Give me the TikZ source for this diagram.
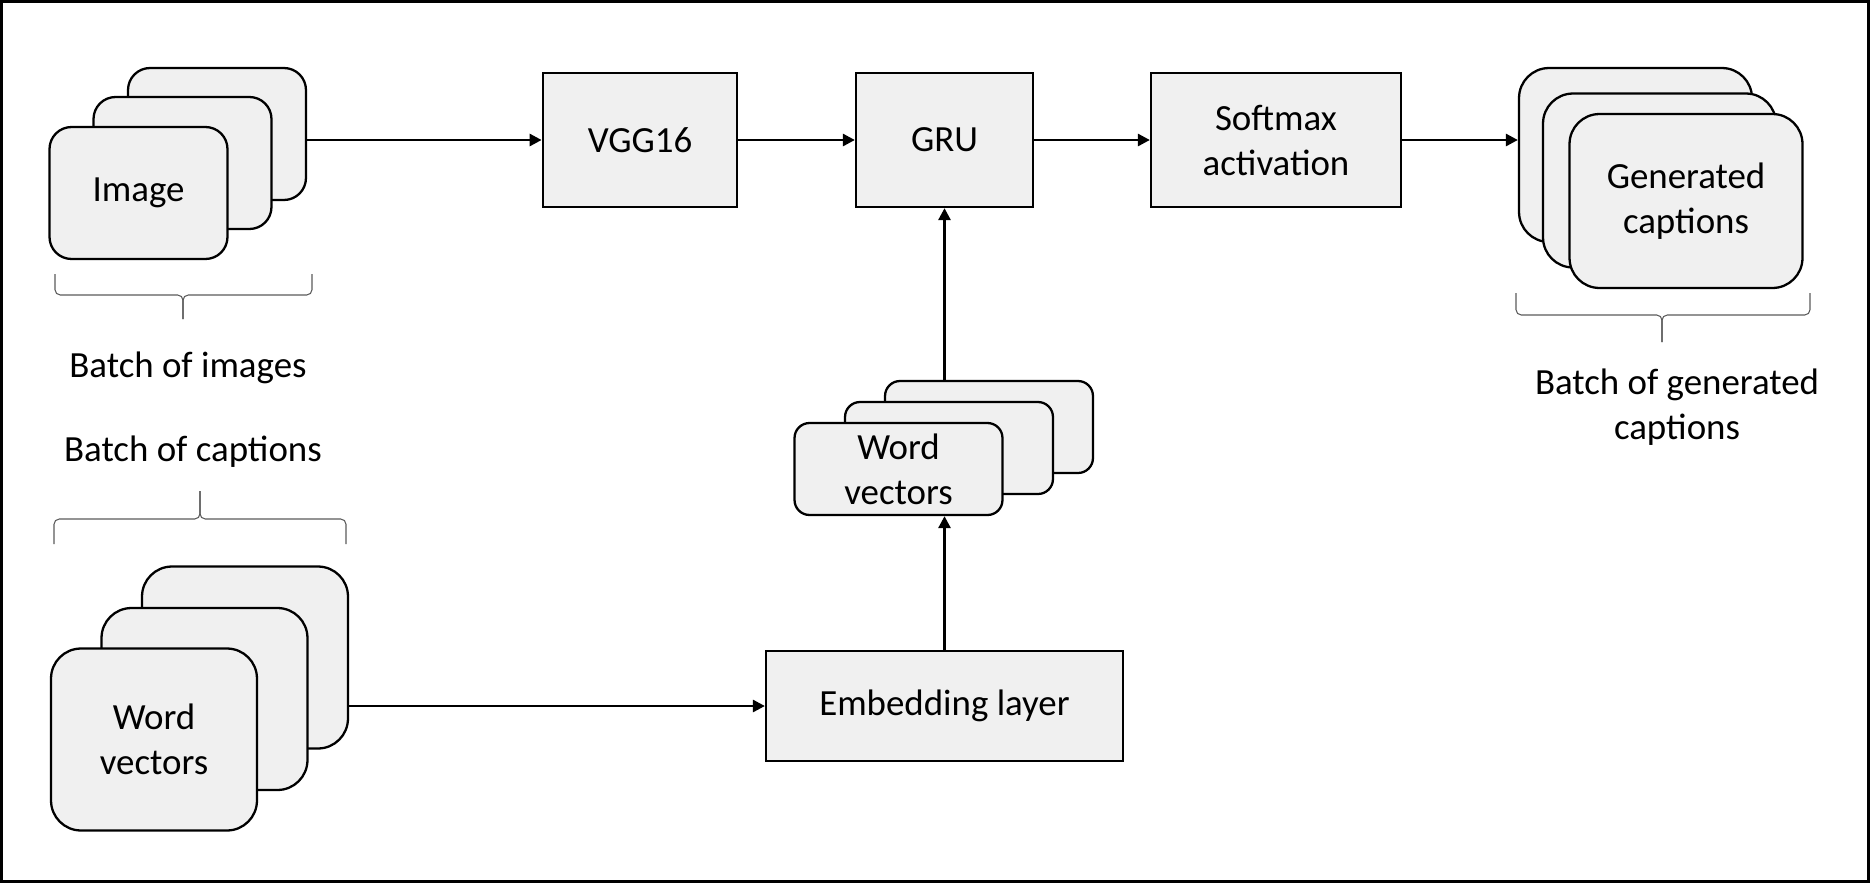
\documentclass[tikz,border=0pt]{standalone}
\usepackage{fontspec}
\setmainfont{Carlito}
\usepackage{xcolor}
\usetikzlibrary{positioning,arrows.meta}
\definecolor{boxfill}{HTML}{F0F0F0}
\definecolor{bracegray}{HTML}{5A5A5A}
\tikzset{
  block/.style={draw, fill=boxfill, line width=1.3pt, align=center, inner sep=0pt,
    font=\fontsize{21}{25.6}\selectfont},
  card/.style={block, rounded corners=#1},
  imgcard/.style={card=0.44cm, minimum width=3.56cm, minimum height=2.64cm},
  wordcard/.style={card=0.6cm, minimum width=4.12cm, minimum height=3.64cm},
  veccard/.style={card=0.3cm, minimum width=4.16cm, minimum height=1.84cm},
  gencard/.style={card=0.6cm, minimum width=4.66cm, minimum height=3.48cm},
  arr/.style={-{Triangle[length=6.8pt,width=6.8pt]}, line width=1.55pt},
  brc/.style={draw=bracegray, line width=0.6pt, rounded corners=3pt},
  lbl/.style={align=center, font=\fontsize{21}{25.6}\selectfont}
}

\begin{document}
\begin{tikzpicture}[x=0.02cm, y=-0.02cm]
    \useasboundingbox (0,0) rectangle (1870,883);
    \draw[line width=1.6pt] (1.5,1.5) rectangle (1868.5,881.5);

    % image stack
    \node[imgcard] (imgC) at (217,134) {};
    \path (imgC)++(-34.5,29) node[imgcard] (imgB) {};
    \path (imgB)++(-44,30) node[imgcard] (imgA) {Image};

    % main blocks
    \node[block, minimum width=3.89cm, minimum height=2.68cm] (vgg) at (640,140) {VGG16};
    \node[block, minimum width=3.54cm, minimum height=2.68cm] (gru) at (944.5,140) {GRU};
    \node[block, minimum width=5cm, minimum height=2.68cm] (soft) at (1276,140) {Softmax\\activation};
    \node[block, minimum width=7.14cm, minimum height=2.2cm] (emb) at (944.5,706) {Embedding layer};

    % generated captions stack
    \node[gencard] (genC) at (1635.5,155) {};
    \path (genC)++(24,25.5) node[gencard] (genB) {};
    \path (genB)++(26.5,20.5) node[gencard] (genA) {Generated\\captions};

    % word vectors (captions)
    \node[wordcard] (capC) at (245,657.5) {};
    \path (capC)++(-40.5,41.5) node[wordcard] (capB) {};
    \path (capB)++(-50.5,40.5) node[wordcard] (capA) {Word\\vectors};

    % word vectors (embedded)
    \node[veccard] (vecC) at (989,427) {};
    \path (vecC)++(-40,21) node[veccard] (vecB) {};
    \path (vecB)++(-50.5,21) node[veccard] (vecA) {Word\\vectors};

    % braces and labels
    \draw[brc] (55,274) |- (183,295) -- (183,319);
    \draw[brc] (312,274) |- (183,295) -- (183,319);
    \node[lbl] (batchimg) at (188,368) {Batch of images};

    \node[lbl] (batchcap) at (193,452) {Batch of captions};
    \draw[brc] (54,544) |- (200,519) -- (200,491);
    \draw[brc] (346,544) |- (200,519) -- (200,491);

    \draw[brc] (1516,293) |- (1662,315) -- (1662,342);
    \draw[brc] (1810,293) |- (1662,315) -- (1662,342);
    \node[lbl] (batchgen) at (1677,407) {Batch of generated\\captions};

    % connectors
    \draw[arr] (imgC.east |- vgg.west) -- (vgg.west);
    \draw[arr] (vgg) -- (gru);
    \draw[arr] (gru) -- (soft);
    \draw[arr] (soft.east) -- (genC.west |- soft.east);
    \draw[arr] (capC.east |- emb.west) -- (emb.west);
    \draw[arr] (emb.north) -- (emb.north |- vecA.south);
    \draw[arr] (gru.south |- vecC.north) -- (gru.south);
\end{tikzpicture}
\end{document}
